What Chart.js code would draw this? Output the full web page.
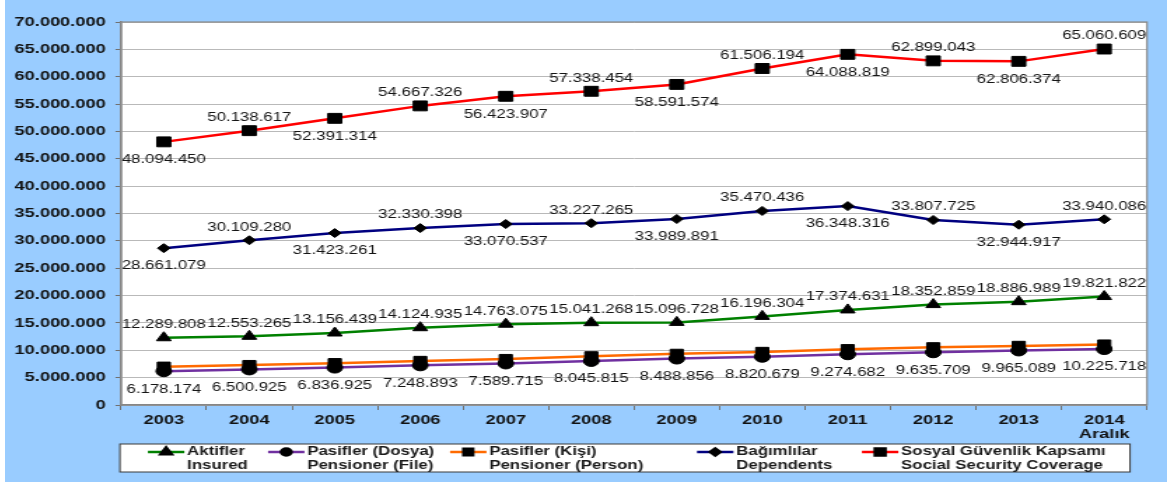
<!DOCTYPE html>
<html>
<head>
<meta charset="utf-8">
<script src="https://cdn.jsdelivr.net/npm/chart.js@4.4.1/dist/chart.umd.min.js"></script>
<style>
  html, body { margin: 0; padding: 0; background: #ffffff; overflow: hidden; }
  #frame { position: absolute; left: 5px; top: 0; width: 1162px; height: 482px; background: #99CCFF; overflow: hidden; }
  /* the chart is drawn narrow and widened horizontally */
  #stretch { position: absolute; left: 0; top: 0; width: 830px; height: 482px; transform: scaleX(1.4); transform-origin: 0 0; }
</style>
</head>
<body>
<div id="frame"><div id="stretch"><canvas id="c" width="830" height="482"></canvas></div></div>
<script>
// Yıllar
const years = ['2003', '2004', '2005', '2006', '2007', '2008', '2009', '2010', '2011', '2012', '2013', ['2014', 'Aralık']];

// Aktifler / Insured
const aktifler = [12289808, 12553265, 13156439, 14124935, 14763075, 15041268, 15096728, 16196304, 17374631, 18352859, 18886989, 19821822];
// Pasifler (Dosya) / Pensioner (File)
const pasiflerDosya = [6178174, 6500925, 6836925, 7248893, 7589715, 8045815, 8488856, 8820679, 9274682, 9635709, 9965089, 10225718];
// Pasifler (Kişi) / Pensioner (Person) — no value labels on this line
const pasiflerKisi = [7000000, 7300000, 7650000, 8050000, 8400000, 8900000, 9350000, 9700000, 10200000, 10550000, 10800000, 11050000];
// Bağımlılar / Dependents
const bagimlilar = [28661079, 30109280, 31423261, 32330398, 33070537, 33227265, 33989891, 35470436, 36348316, 33807725, 32944917, 33940086];
// Sosyal Güvenlik Kapsamı / Social Security Coverage
const sgKapsami = [48094450, 50138617, 52391314, 54667326, 56423907, 57338454, 58591574, 61506194, 64088819, 62899043, 62806374, 65060609];

// Y axis range
const yMin = 0;
const yMax = 70000000;
const yStep = 5000000;

// Where each value label sits relative to its point
const alternating = ['below', 'above', 'below', 'above', 'below', 'above', 'below', 'above', 'below', 'above', 'below', 'above'];
const allAbove = years.map(() => 'above');
const allBelow = years.map(() => 'below');

const FONT = "'Liberation Sans', Arial, Helvetica, sans-serif";

function fmt(v) {
  return String(v).replace(/\B(?=(\d{3})+(?!\d))/g, '.');
}

// White plot area and its grey frame
const plotFrame = {
  id: 'plotFrame',
  beforeDraw(chart) {
    const { ctx, chartArea: a } = chart;
    ctx.save();
    ctx.fillStyle = '#ffffff';
    ctx.fillRect(a.left, a.top, a.right - a.left, a.bottom - a.top);
    ctx.restore();
  },
  beforeDatasetsDraw(chart) {
    const { ctx, chartArea: a } = chart;
    ctx.save();
    ctx.strokeStyle = '#8a8a8a';
    ctx.lineWidth = 1.2;
    ctx.strokeRect(a.left, a.top, a.right - a.left, a.bottom - a.top);
    ctx.restore();
  }
};

// Value labels above/below the points
const valueLabels = {
  id: 'valueLabels',
  afterDatasetsDraw(chart) {
    const ctx = chart.ctx;
    ctx.save();
    ctx.font = '12px ' + FONT;
    ctx.fillStyle = '#141414';
    ctx.textAlign = 'center';
    ctx.textBaseline = 'middle';
    chart.data.datasets.forEach((ds, i) => {
      if (!ds.labelPlacement) return;
      const meta = chart.getDatasetMeta(i);
      meta.data.forEach((pt, j) => {
        const pos = ds.labelPlacement[j];
        const y = pos === 'above' ? pt.y - 13 : pt.y + 18;
        ctx.fillText(fmt(ds.data[j]), pt.x, y);
      });
    });
    ctx.restore();
  }
};

// Boxed legend with two-line entries
const legendItemX = [102.1, 187.9, 317.9, 494.3, 612.1];
const boxLegend = {
  id: 'boxLegend',
  afterDraw(chart) {
    const ctx = chart.ctx;
    const box = { left: 82.1, top: 444, right: 803.6, bottom: 472 };
    ctx.save();
    ctx.fillStyle = '#ffffff';
    ctx.fillRect(box.left, box.top, box.right - box.left, box.bottom - box.top);
    ctx.strokeStyle = '#3a3a3a';
    ctx.lineWidth = 1;
    ctx.strokeRect(box.left, box.top, box.right - box.left, box.bottom - box.top);

    ctx.font = 'bold 12px ' + FONT;
    ctx.textBaseline = 'middle';
    ctx.textAlign = 'left';
    const y1 = 452, y2 = 466;
    chart.data.datasets.forEach((ds, i) => {
      const x = legendItemX[i];
      const lines = ds.legendText;
      ctx.strokeStyle = ds.borderColor;
      ctx.lineWidth = 2.5;
      ctx.beginPath();
      ctx.moveTo(x, y1);
      ctx.lineTo(x + 26, y1);
      ctx.stroke();
      ctx.fillStyle = '#000000';
      ctx.strokeStyle = '#000000';
      Chart.helpers.drawPoint(ctx, { pointStyle: ds.pointStyle, radius: ds.legendRadius, rotation: 0, borderWidth: 1 }, x + 13, y1);
      ctx.fillStyle = '#1a1a1a';
      ctx.fillText(lines[0], x + 28, y1);
      ctx.fillText(lines[1], x + 28, y2);
    });
    ctx.restore();
  }
};

function series(label, legendText, data, color, style, radius, legendRadius, placement) {
  return {
    label: label,
    legendText: legendText,
    data: data,
    borderColor: color,
    backgroundColor: color,
    borderWidth: 2.5,
    tension: 0,
    pointStyle: style,
    pointRadius: radius,
    pointHoverRadius: radius,
    pointBackgroundColor: '#000000',
    pointBorderColor: '#000000',
    pointBorderWidth: 1,
    legendRadius: legendRadius,
    labelPlacement: placement
  };
}

new Chart(document.getElementById('c'), {
  type: 'line',
  data: {
    labels: years,
    datasets: [
      series('Aktifler', ['Aktifler', 'Insured'], aktifler, '#008000', 'triangle', 6, 4.5, allAbove),
      series('Pasifler (Dosya)', ['Pasifler (Dosya)', 'Pensioner (File)'], pasiflerDosya, '#7030A0', 'circle', 5.5, 3.5, allBelow),
      series('Pasifler (Kişi)', ['Pasifler (Kişi)', 'Pensioner (Person)'], pasiflerKisi, '#FF6A00', 'rect', 6.5, 4.5, null),
      series('Bağımlılar', ['Bağımlılar', 'Dependents'], bagimlilar, '#000080', 'rectRot', 4.5, 3.5, alternating),
      series('Sosyal Güvenlik Kapsamı', ['Sosyal Güvenlik Kapsamı', 'Social Security Coverage'], sgKapsami, '#FF0000', 'rect', 7, 5, alternating)
    ]
  },
  options: {
    responsive: false,
    animation: false,
    devicePixelRatio: 1,
    layout: { padding: { top: 22, right: 14.3, left: 0, bottom: 0 } },
    plugins: {
      legend: { display: false },
      tooltip: { enabled: false }
    },
    scales: {
      x: {
        type: 'category',
        offset: true,
        grid: { offset: true, drawOnChartArea: false, drawTicks: true, tickLength: 5, color: '#707070', lineWidth: 1 },
        border: { color: '#808080', width: 1.5 },
        ticks: {
          font: { family: FONT, size: 13, weight: 'bold', lineHeight: 1.1 },
          color: '#111111',
          padding: 3,
          maxRotation: 0,
          autoSkip: false
        },
        afterFit(scale) { scale.height = 77; }
      },
      y: {
        min: yMin,
        max: yMax,
        grid: { color: '#b9b9b9', lineWidth: 1, drawTicks: true, tickLength: 4, tickColor: '#707070' },
        border: { color: '#808080', width: 1.5 },
        ticks: {
          stepSize: yStep,
          font: { family: FONT, size: 13, weight: 'bold' },
          color: '#111111',
          padding: 7,
          callback: (v) => fmt(v)
        },
        afterFit(scale) { scale.width = 82.9; }
      }
    }
  },
  plugins: [plotFrame, valueLabels, boxLegend]
});
</script>
</body>
</html>
